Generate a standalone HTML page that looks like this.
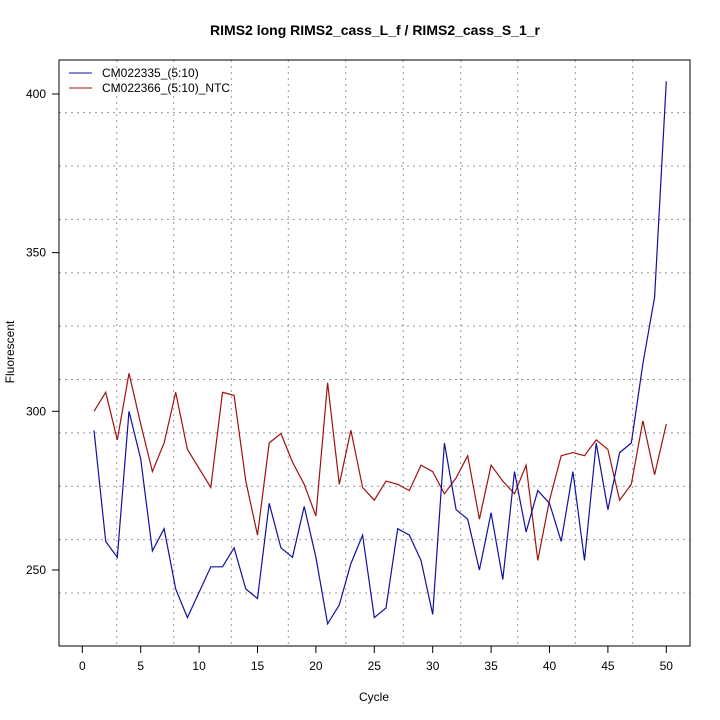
<!DOCTYPE html>
<html><head><meta charset="utf-8"><style>body{margin:0;background:#fff}svg{display:block}</style></head>
<body>
<svg id="s" width="720" height="720" xmlns="http://www.w3.org/2000/svg" font-family="Liberation Sans, sans-serif">
<rect width="720" height="720" fill="#fff"/>
<text x="375" y="35" font-size="14" font-weight="bold" text-anchor="middle">RIMS2 long RIMS2_cass_L_f / RIMS2_cass_S_1_r</text>
<g id="grid" stroke="#999" stroke-width="1" stroke-dasharray="2,4"></g>
<g id="ax" stroke="#000" stroke-width="1" fill="none"></g>
<g id="lab" font-size="12" fill="#000"></g>
<text x="374" y="701" font-size="12" text-anchor="middle">Cycle</text>
<text transform="translate(14,352) rotate(-90)" font-size="12" text-anchor="middle">Fluorescent</text>
<polyline id="red" fill="none" stroke="#a01010" stroke-width="1.2"/>
<polyline id="blue" fill="none" stroke="#1010a0" stroke-width="1.2"/>
<line x1="69" y1="73" x2="92" y2="73" stroke="#1010a0"/>
<line x1="69" y1="88" x2="92" y2="88" stroke="#a01010"/>
<text x="102" y="77" font-size="12">CM022335_(5:10)</text>
<text x="102" y="92" font-size="12">CM022366_(5:10)_NTC</text>
</svg>
<script>
const NS="http://www.w3.org/2000/svg";
function el(p,t,a){const e=document.createElementNS(NS,t);for(const k in a)e.setAttribute(k,a[k]);p.appendChild(e);return e;}
const L=59,R=690,T=60,B=646;
const X=c=>82.3+c*11.68, Y=v=>411.3-(v-300)*3.1733;
const g=document.getElementById('grid'),ax=document.getElementById('ax'),lab=document.getElementById('lab');
[116.7,173.7,231.3,288.3,345.7,403.3,460.7,517.7,575.3,632.7].forEach(x=>el(g,'line',{x1:x,y1:T,x2:x,y2:B}));
for(let y=593;y>T+2;y-=53.38)el(g,'line',{x1:L,y1:y,x2:R,y2:y});
el(ax,'rect',{x:L,y:T,width:R-L,height:B-T});
for(let c=0;c<=50;c+=5){el(ax,'line',{x1:X(c),y1:B,x2:X(c),y2:B+7});const t=el(lab,'text',{x:X(c),y:B+24,'text-anchor':'middle'});t.textContent=c;}
[250,300,350,400].forEach(v=>{el(ax,'line',{x1:L-7,y1:Y(v),x2:L,y2:Y(v)});const t=el(lab,'text',{x:46,y:Y(v)+4,'text-anchor':'end'});t.textContent=v;});
const blue=[294,259,254,300,285,256,263,244,235,243,251,251,257,244,241,271,257,254,270,254,233,239,252,261,235,238,263,261,253,236,290,269,266,250,268,247,281,262,275,271,259,281,253,290,269,287,290,315,336,404];
const red=[300,306,291,312,296,281,290,306,288,282,276,306,305,278,261,290,293,284,277,267,309,277,294,276,272,278,277,275,283,281,274,279,286,266,283,278,274,283,253,272,286,287,286,291,288,272,277,297,280,296];
const pts=a=>a.map((v,i)=>X(i+1).toFixed(1)+','+Y(v).toFixed(1)).join(' ');
document.getElementById('blue').setAttribute('points',pts(blue));
document.getElementById('red').setAttribute('points',pts(red));
</script>
</body></html>
